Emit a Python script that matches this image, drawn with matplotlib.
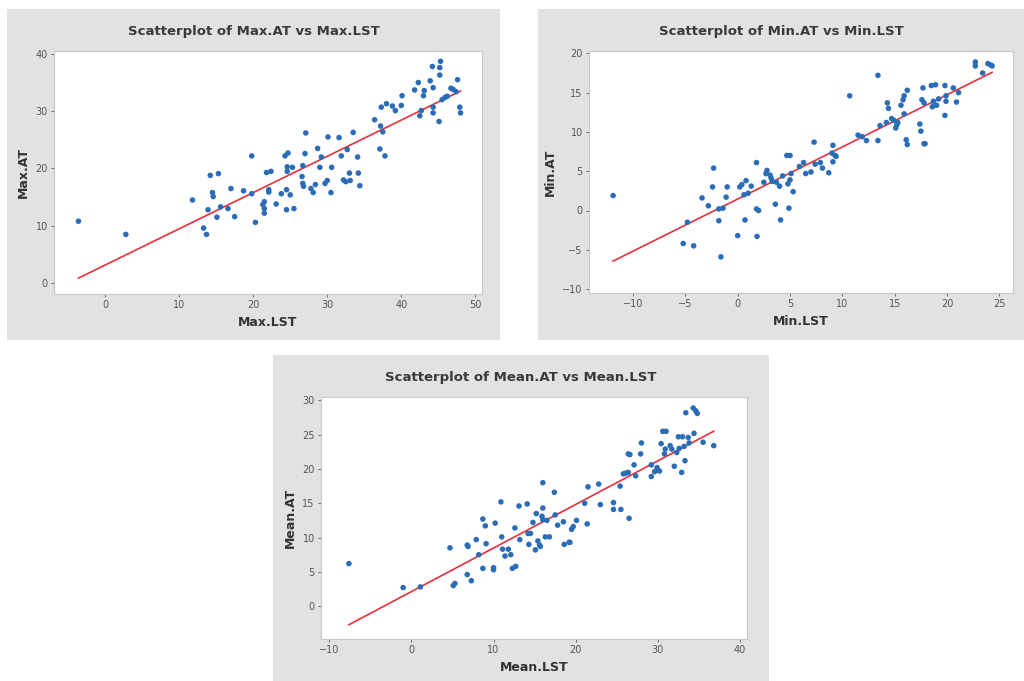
import numpy as np
import matplotlib
matplotlib.use("Agg")
import matplotlib.pyplot as plt
from matplotlib.patches import Rectangle

# --- Max.LST vs Max.AT ---
max_lst = [-3.6, 2.8, 11.8, 13.3, 13.7, 13.9, 14.2, 14.5, 14.6, 15.1, 15.3, 15.6, 16.6, 17.0,
           17.5, 18.7, 19.8, 19.8, 20.3, 21.3, 21.5, 21.5, 21.5, 21.8, 22.1, 22.1, 22.4, 23.1,
           23.8, 24.3, 24.5, 24.5, 24.6, 24.7, 24.6, 25.0, 25.3, 25.5, 26.6, 26.7, 26.7, 26.8,
           27.0, 27.1, 27.8, 28.1, 28.4, 28.7, 29.0, 29.2, 29.7, 30.0, 30.1, 30.5, 30.6, 31.6,
           31.9, 32.2, 32.5, 32.7, 33.0, 33.1, 33.5, 34.1, 34.2, 34.4, 36.4, 37.1, 37.2, 37.3,
           37.5, 37.8, 38.0, 38.8, 39.2, 40.0, 40.1, 41.8, 42.3, 42.5, 42.7, 43.0, 43.1, 43.9,
           44.2, 44.3, 44.3, 44.3, 45.1, 45.2, 45.3, 45.2, 45.5, 45.9, 46.2, 46.7, 47.0, 47.4,
           47.6, 47.9, 48.0]
max_at = [10.8, 8.5, 14.5, 9.6, 8.5, 12.8, 18.8, 15.8, 15.1, 11.5, 19.1, 13.3, 13.0, 16.5,
          11.6, 16.1, 22.2, 15.6, 10.6, 13.7, 14.2, 13.0, 12.2, 19.3, 15.9, 16.3, 19.5, 13.8,
          15.6, 22.2, 12.8, 16.3, 20.3, 22.7, 19.5, 15.4, 20.2, 13.0, 18.6, 20.5, 17.4, 16.9,
          22.6, 26.2, 16.5, 15.8, 17.2, 23.5, 20.2, 22.0, 17.4, 17.9, 25.5, 15.8, 20.2, 25.4,
          22.2, 18.0, 17.7, 23.3, 19.2, 17.9, 26.3, 22.0, 19.2, 17.0, 28.5, 23.4, 27.4, 30.7,
          26.4, 22.2, 31.3, 30.9, 30.1, 31.0, 32.7, 33.7, 35.0, 29.2, 30.1, 32.7, 33.6, 35.3,
          37.8, 34.1, 30.7, 29.7, 28.2, 37.6, 38.7, 36.3, 32.0, 32.4, 32.6, 34.0, 33.8, 33.4,
          35.5, 30.7, 29.7]

# --- Min.LST vs Min.AT ---
min_lst = [-11.9, -5.2, -4.8, -4.2, -3.4, -2.8, -2.4, -2.3, -1.8, -1.8, -1.6, -1.4, -1.1, -1.0,
           0.0, 0.2, 0.4, 0.6, 0.7, 0.8, 1.0, 1.3, 1.8, 1.8, 1.85, 2.0, 2.5, 2.7, 2.8, 3.1, 3.2,
           3.3, 3.6, 3.7, 4.0, 4.1, 4.3, 4.7, 4.8, 4.9, 5.0, 5.0, 5.1, 5.3, 5.9, 6.3, 6.5, 7.0,
           7.3, 7.4, 7.9, 8.1, 8.7, 9.0, 9.1, 9.1, 9.3, 9.4, 10.7, 11.5, 11.9, 12.3, 13.4, 13.4,
           13.6, 14.2, 14.3, 14.4, 14.7, 14.9, 15.1, 15.2, 15.3, 15.6, 15.8, 15.9, 15.9, 16.1,
           16.2, 16.2, 17.4, 17.5, 17.6, 17.7, 17.8, 17.9, 17.8, 18.5, 18.6, 18.7, 18.9, 19.0,
           19.2, 19.8, 19.8, 19.9, 19.9, 20.6, 20.9, 21.1, 22.7, 22.7, 23.4, 23.9, 24.2, 24.3]
min_at = [1.9, -4.2, -1.5, -4.5, 1.6, 0.6, 3.0, 5.4, -1.3, 0.2, -5.9, 0.3, 1.7, 3.0,
          -3.2, 3.0, 3.3, 2.0, -1.2, 3.8, 2.2, 3.1, 6.1, 0.2, -3.3, 0.0, 3.6, 4.7, 5.1, 4.5, 4.1,
          3.7, 0.8, 3.6, 3.1, -1.2, 4.4, 7.0, 3.4, 0.3, 3.9, 7.0, 4.7, 2.4, 5.6, 6.1, 4.7, 4.9,
          8.7, 5.9, 6.1, 5.4, 4.8, 7.3, 8.3, 6.2, 7.0, 6.9, 14.6, 9.6, 9.4, 8.9, 17.2, 8.9,
          10.8, 11.2, 13.7, 13.0, 11.7, 11.5, 10.5, 10.9, 11.2, 13.4, 14.1, 14.6, 12.3, 9.0,
          8.4, 15.3, 11.0, 10.1, 14.1, 15.6, 8.5, 8.5, 13.7, 15.9, 13.2, 13.9, 16.0, 13.4,
          14.2, 12.1, 15.9, 13.9, 14.6, 15.6, 13.8, 15.0, 18.9, 18.4, 17.5, 18.7, 18.5, 18.4]

# --- Mean.LST vs Mean.AT ---
mean_lst = [-7.6, -1.0, 1.1, 4.7, 5.1, 5.3, 6.8, 6.9, 6.8, 7.3, 7.9, 8.2, 8.7, 8.7, 9.0, 9.1,
            10.0, 10.0, 10.2, 10.9, 11.0, 11.1, 11.4, 11.8, 12.1, 12.3, 12.6, 12.7, 13.1, 13.2,
            14.1, 14.2, 14.3, 14.5, 14.8, 15.2, 15.1, 15.4, 15.6, 15.7, 15.9, 16.0, 16.0, 16.0,
            16.3, 16.5, 16.8, 17.4, 17.5, 17.8, 18.5, 18.6, 19.2, 19.3, 19.5, 19.7, 20.1, 21.1,
            21.4, 21.5, 22.8, 23.0, 24.6, 24.6, 25.4, 25.5, 25.8, 26.1, 26.4, 26.4, 26.6, 26.5,
            27.1, 27.3, 27.9, 28.0, 29.2, 29.2, 29.6, 29.9, 30.2, 30.4, 30.6, 30.8, 31.0, 30.9,
            31.5, 31.7, 32.0, 32.3, 32.5, 32.6, 32.9, 33.0, 33.2, 33.3, 33.4, 33.7, 33.8, 34.3,
            34.4, 34.6, 34.8, 35.5, 36.8]
mean_at = [6.2, 2.7, 2.8, 8.5, 3.0, 3.3, 8.9, 8.7, 4.6, 3.7, 9.7, 7.5, 12.7, 5.5, 11.7, 9.1,
           5.6, 5.3, 12.1, 15.2, 10.1, 8.3, 7.3, 8.3, 7.5, 5.5, 11.4, 5.8, 14.6, 9.7,
           14.9, 10.6, 9.0, 10.6, 12.2, 13.5, 8.2, 9.5, 8.9, 8.7, 13.1, 14.3, 18.0, 12.6,
           10.1, 12.5, 10.1, 16.6, 13.3, 11.8, 12.3, 9.0, 9.3, 9.3, 11.2, 11.6, 12.5, 15.0,
           12.0, 17.4, 17.8, 14.8, 14.1, 15.1, 17.5, 14.1, 19.3, 19.4, 19.5, 22.2, 22.1, 12.8,
           20.6, 19.0, 22.2, 23.8, 18.9, 20.6, 19.6, 20.2, 19.7, 23.7, 25.5, 22.2, 25.5, 22.9,
           23.4, 22.9, 20.4, 22.4, 24.7, 23.0, 19.5, 24.7, 23.3, 21.2, 28.2, 24.6, 23.8, 28.9,
           25.2, 28.5, 28.1, 23.9, 23.4]

BG = "#e1e2e4"
DOT = "#2a6cb6"
LINE = "#e8303a"
TXT = "#333333"

fig = plt.figure(figsize=(10.24, 6.81), dpi=100)
W, H = 1024, 681


def px_box(x0, y0, x1, y1):
    # pixel box (top-left origin) -> figure fraction [left, bottom, width, height]
    return [x0 / W, 1 - y1 / H, (x1 - x0) / W, (y1 - y0) / H]


def panel(box, plot, x, y, xname, yname, xlim, ylim, xticks, yticks):
    b = px_box(*box)
    fig.patches.append(Rectangle((b[0], b[1]), b[2], b[3], transform=fig.transFigure,
                                 facecolor=BG, edgecolor="none", zorder=-5))
    ax = fig.add_axes(px_box(*plot))
    ax.set_zorder(2)
    ax.set_facecolor("white")
    x = np.array(x)
    y = np.array(y)
    ax.scatter(x, y, s=16, color=DOT, edgecolors="none", zorder=3)
    # least-squares fit line
    k, c = np.polyfit(x, y, 1)
    xs = np.array([x.min(), x.max()])
    ax.plot(xs, k * xs + c, color=LINE, lw=1.2, zorder=2)
    ax.set_xlim(*xlim)
    ax.set_ylim(*ylim)
    ax.set_xticks(xticks)
    ax.set_yticks(yticks)
    ax.tick_params(labelsize=7, colors="#555555", length=2.5, width=0.6, pad=2)
    for s in ax.spines.values():
        s.set_color("#c8c8c8")
        s.set_linewidth(0.8)
    ax.set_xlabel(xname, fontsize=9, color=TXT, fontweight="bold", labelpad=4)
    ax.set_ylabel(yname, fontsize=9, color=TXT, fontweight="bold", labelpad=4)
    cx = (box[0] + box[2]) / 2 / W
    fig.text(cx, 1 - (plot[1] - 19) / H, f"Scatterplot of {yname} vs {xname}",
             ha="center", va="center", fontsize=9.5, color="#3a3a3a", fontweight="bold",
             zorder=3)
    return ax


panel((7, 9, 500, 340), (54, 51, 482, 294), max_lst, max_at, "Max.LST", "Max.AT",
      (-6.9, 50.9), (-1.9, 40.5), range(0, 51, 10), range(0, 41, 10))
panel((538, 9, 1024, 340), (589, 51, 1013, 293), min_lst, min_at, "Min.LST", "Min.AT",
      (-14.2, 26.3), (-10.5, 20.3), range(-10, 26, 5), range(-10, 21, 5))
panel((273, 355, 769, 681), (321, 397, 747, 639), mean_lst, mean_at, "Mean.LST", "Mean.AT",
      (-11.0, 40.85), (-4.8, 30.5), range(-10, 41, 10), range(0, 31, 5))

fig.savefig("out.png", dpi=100)
